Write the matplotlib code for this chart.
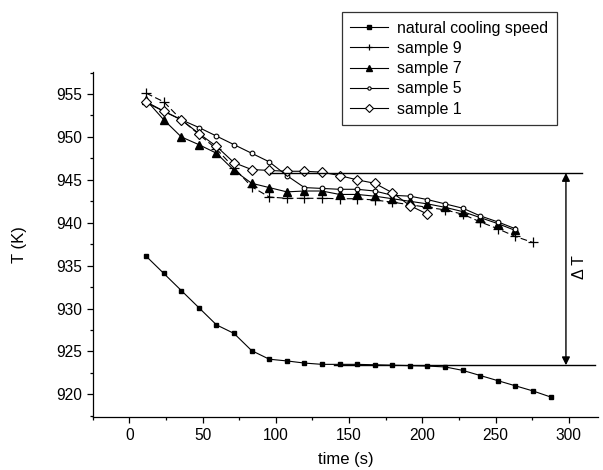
import matplotlib
matplotlib.use("Agg")
import matplotlib.pyplot as plt
from matplotlib.ticker import MultipleLocator

plt.rcParams['font.family'] = ['Liberation Sans', 'DejaVu Sans']

# time axis values (s)
t_nat = [11.5, 23.5, 35.5, 47.5, 59.5, 71.5, 83.5, 95.5, 107.5, 119.5, 131.5, 143.5,
         155.5, 167.5, 179.5, 191.5, 203.5, 215.5, 227.5, 239.5, 251.5, 263.5, 275.5, 287.5]
T_nat = [936.1, 934.1, 932.1, 930.1, 928.1, 927.1, 925.1, 924.1, 923.9, 923.65, 923.5, 923.5,
         923.5, 923.45, 923.4, 923.35, 923.3, 923.2, 922.8, 922.2, 921.6, 921.0, 920.4, 919.7]

t_s9 = [11.5, 23.5, 35.5, 47.5, 59.5, 71.5, 83.5, 95.5, 107.5, 119.5, 131.5, 143.5,
        155.5, 167.5, 179.5, 191.5, 203.5, 215.5, 227.5, 239.5, 251.5, 263.5, 275.5]
T_s9 = [955.1, 954.1, 952.0, 950.3, 948.6, 946.4, 944.2, 943.0, 942.85, 942.85, 942.85, 942.8,
        942.8, 942.65, 942.4, 942.1, 941.8, 941.5, 941.0, 940.1, 939.3, 938.4, 937.7]

t_s7 = [11.5, 23.5, 35.5, 47.5, 59.5, 71.5, 83.5, 95.5, 107.5, 119.5, 131.5, 143.5,
        155.5, 167.5, 179.5, 191.5, 203.5, 215.5, 227.5, 239.5, 251.5, 263.5]
T_s7 = [954.3, 952.0, 950.0, 949.1, 948.1, 946.1, 944.6, 944.1, 943.6, 943.7, 943.7, 943.3,
        943.3, 943.1, 942.8, 942.5, 942.2, 941.8, 941.3, 940.6, 939.9, 939.1]

t_s5 = [11.5, 23.5, 35.5, 47.5, 59.5, 71.5, 83.5, 95.5, 107.5, 119.5, 131.5, 143.5,
        155.5, 167.5, 179.5, 191.5, 203.5, 215.5, 227.5, 239.5, 251.5, 263.5]
T_s5 = [954.0, 953.0, 952.0, 951.1, 950.1, 949.1, 948.1, 947.1, 945.5, 944.1, 944.0, 943.9,
        943.9, 943.7, 943.2, 943.1, 942.7, 942.2, 941.7, 940.8, 940.1, 939.3]

t_s1 = [11.5, 23.5, 35.5, 47.5, 59.5, 71.5, 83.5, 95.5, 107.5, 119.5, 131.5, 143.5,
        155.5, 167.5, 179.5, 191.5, 203.5]
T_s1 = [954.1, 953.0, 952.0, 950.4, 948.9, 947.0, 946.2, 946.1, 946.0, 946.0, 945.9, 945.5,
        945.0, 944.6, 943.5, 942.0, 941.0]

labels = ["natural cooling speed", "sample 9", "sample 7", "sample 5", "sample 1"]

# Delta T annotation levels
T_top = 945.8
T_bot = 923.4
t_arrow = 298
t_top_line = [96, 309]
t_bot_line = [140, 318]

fig = plt.figure(figsize=(6.03, 4.70), dpi=100)
ax = fig.add_axes([0.1537, 0.1134, 0.992 - 0.1537, 0.8474 - 0.1134])

lw = 0.8
ax.plot(t_nat, T_nat, '-', color='black', lw=lw, marker='s', ms=3.5,
        mfc='black', mec='black', label=labels[0])
ax.plot(t_s9, T_s9, color='black', lw=lw, ls=(0, (6, 3)), marker='+', ms=7,
        mew=0.9, label=labels[1])
ax.plot(t_s7, T_s7, '-', color='black', lw=lw, marker='^', ms=6,
        mfc='black', mec='black', label=labels[2])
ax.plot(t_s5, T_s5, '-', color='black', lw=lw, marker='o', ms=3.4,
        mfc='white', mec='black', mew=0.8, label=labels[3])
ax.plot(t_s1, T_s1, '-', color='black', lw=lw, marker='D', ms=5.3,
        mfc='white', mec='black', mew=0.8, label=labels[4])

ax.plot(t_top_line, [T_top, T_top], color='black', lw=1.0)
ax.plot(t_bot_line, [T_bot, T_bot], color='black', lw=1.0)
ax.annotate('', xy=(t_arrow, T_top), xytext=(t_arrow, T_bot),
            arrowprops=dict(arrowstyle='<|-|>', color='black', lw=1.0,
                            mutation_scale=12, shrinkA=0, shrinkB=0))
ax.text(307.5, 934.8, 'Δ T', rotation=90, ha='center', va='center', fontsize=11.5)

ax.set_xlim(-25, 320)
ax.set_ylim(917.4, 957.6)
ax.xaxis.set_major_locator(MultipleLocator(50))
ax.xaxis.set_minor_locator(MultipleLocator(25))
ax.yaxis.set_major_locator(MultipleLocator(5))
ax.yaxis.set_minor_locator(MultipleLocator(2.5))
ax.tick_params(which='major', direction='out', length=4.3, width=0.9, labelsize=11.2)
ax.tick_params(which='minor', direction='out', length=2.4, width=0.9)
ax.set_xticks([0, 50, 100, 150, 200, 250, 300])
ax.set_yticks([920, 925, 930, 935, 940, 945, 950, 955])
for s in ['top', 'right']:
    ax.spines[s].set_visible(False)
for s in ['left', 'bottom']:
    ax.spines[s].set_linewidth(0.9)

ax.set_xlabel('time (s)', fontsize=12, labelpad=7)
ax.set_ylabel('T (K)', fontsize=12, labelpad=21)

leg = ax.legend(loc='upper left', bbox_to_anchor=(341.7 / 603, 1 - 12 / 470),
                bbox_transform=fig.transFigure, frameon=True, fancybox=False,
                fontsize=11.4, handlelength=2.4, handletextpad=0.55,
                borderpad=0.55, labelspacing=0.33, markerscale=0.7, borderaxespad=0)
leg.get_frame().set_edgecolor('black')
leg.get_frame().set_linewidth(0.9)
for h in leg.get_lines():
    h.set_linestyle('-')

fig.savefig('out.png', dpi=100)
